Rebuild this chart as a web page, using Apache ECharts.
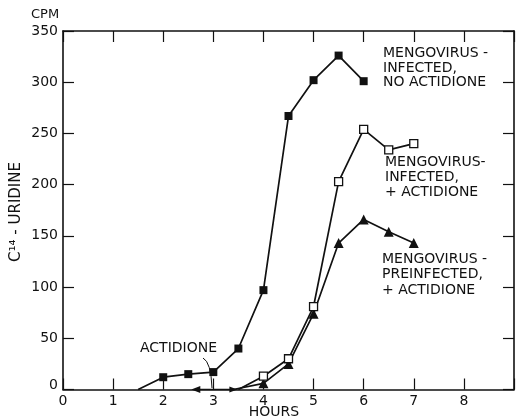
<!DOCTYPE html>
<html>
<head>
<meta charset="utf-8">
<script src="https://cdn.jsdelivr.net/npm/echarts@6/dist/echarts.min.js"></script>
<style>html,body{margin:0;padding:0;background:#fff;}#c{width:517px;height:420px;}</style>
</head>
<body>
<div id="c"></div>
<script>
// ---- data ----
const yTicks = [0, 50, 100, 150, 200, 250, 300, 350];
const xTicks = [0, 1, 2, 3, 4, 5, 6, 7, 8];
const noActHours = [1.5, 2, 2.5, 3, 3.5, 4, 4.5, 5, 5.5, 6];
const noActCpm   = [0, 12, 15, 17, 40, 97, 267, 302, 326, 301];
const infActHours = [3.5, 4, 4.5, 5, 5.5, 6, 6.5, 7];
const infActCpm   = [0, 13, 30, 81, 203, 254, 234, 240];
const preHours = [2.65, 3.4, 4, 4.5, 5, 5.5, 6, 6.5, 7];
const preCpm   = [0, 0, 6, 25, 74, 143, 166, 154, 143];
const seriesNames = ['MENGOVIRUS -\nINFECTED,\nNO ACTIDIONE', 'MENGOVIRUS-\nINFECTED,\n+ ACTIDIONE', 'MENGOVIRUS -\nPREINFECTED,\n+ ACTIDIONE'];

const FONT = 'DejaVu Sans';
const INK = '#111';

function pts(xs, ys) { return xs.map((x, i) => [x, ys[i]]); }

const noActData = pts(noActHours, noActCpm).map((p, i) => i === 0 ? {value: p, symbol: 'none'} : p);
const infActData = pts(infActHours, infActCpm).map((p, i) => i === 0 ? {value: p, symbol: 'none'} : p);
const preData = pts(preHours, preCpm).map((p, i) => {
  if (i === 0) return {value: p, symbol: 'triangle', symbolRotate: 90, symbolSize: [7, 9]};
  if (i === 1) return {value: p, symbol: 'triangle', symbolRotate: -90, symbolSize: [6, 8]};
  return p;
});

function mkAxis(extra) {
  return Object.assign({
    type: 'value', splitLine: {show: false},
    axisLine: {show: true, onZero: false, lineStyle: {color: INK, width: 1.6}},
    axisTick: {show: true, inside: true, length: 11, lineStyle: {color: INK, width: 1.2}}
  }, extra);
}

const chart = echarts.init(document.getElementById('c'), null, {renderer: 'canvas'});
chart.setOption({
  animation: false,
  backgroundColor: '#fff',
  grid: {left: 63, right: 1, top: 31, bottom: 30.5, containLabel: false},
  xAxis: [
    mkAxis({position: 'bottom', min: 0, max: 9, interval: 1,
      axisLabel: {color: INK, fontFamily: FONT, fontSize: 14, margin: 5,
        formatter: v => (xTicks.indexOf(v) >= 0 ? String(v) : '')}}),
    mkAxis({position: 'top', min: 0, max: 9, interval: 1, axisLabel: {show: false}})
  ],
  yAxis: [
    mkAxis({position: 'left', min: 0, max: 350, interval: 50,
      axisLabel: {color: INK, fontFamily: FONT, fontSize: 14, margin: 5,
        formatter: v => (yTicks.indexOf(v) >= 0 ? (v === 0 ? '{z|0}' : String(v)) : ''),
        rich: {z: {fontFamily: FONT, fontSize: 14, color: INK, padding: [0, 0, 8, 0]}}}}),
    mkAxis({position: 'right', min: 0, max: 350, interval: 50, axisLabel: {show: false}})
  ],
  series: [
    {name: seriesNames[0], type: 'line', data: noActData, symbol: 'rect', symbolSize: 8,
      lineStyle: {color: INK, width: 1.7}, itemStyle: {color: INK}, z: 3},
    {name: seriesNames[1], type: 'line', data: infActData, symbol: 'rect', symbolSize: 8,
      lineStyle: {color: INK, width: 1.7}, itemStyle: {color: '#fff', borderColor: INK, borderWidth: 1.3}, z: 4},
    {name: seriesNames[2], type: 'line', data: preData, symbol: 'triangle', symbolSize: 10,
      lineStyle: {color: INK, width: 1.7}, itemStyle: {color: INK}, z: 3}
  ],
  graphic: [
    {type: 'text', left: 31, top: 8, style: {text: 'CPM', font: '13px "' + FONT + '"', fill: INK}},
    {type: 'text', x: 16, y: 212, rotation: Math.PI / 2,
      style: {text: 'C\u00b9\u2074 - URIDINE', font: '15px "' + FONT + '"', fill: INK, align: 'center', verticalAlign: 'middle'}},
    {type: 'text', x: 274, y: 412, style: {text: 'HOURS', font: '14px "' + FONT + '"', fill: INK, align: 'center', verticalAlign: 'middle'}},
    {type: 'text', x: 383, y: 46.5, style: {text: seriesNames[0], font: '14px "' + FONT + '"', fill: INK, lineHeight: 14.5}},
    {type: 'text', x: 385, y: 154.5, style: {text: seriesNames[1], font: '14px "' + FONT + '"', fill: INK, lineHeight: 15}},
    {type: 'text', x: 382, y: 251.5, style: {text: seriesNames[2], font: '14px "' + FONT + '"', fill: INK, lineHeight: 15.5}},
    {type: 'text', x: 140, y: 341, style: {text: 'ACTIDIONE', font: '14px "' + FONT + '"', fill: INK}},
    {type: 'bezierCurve', shape: {x1: 203, y1: 358, x2: 212, y2: 388, cpx1: 211, cpy1: 362}, style: {stroke: INK, lineWidth: 1, fill: null}}
  ]
});
</script>
</body>
</html>
